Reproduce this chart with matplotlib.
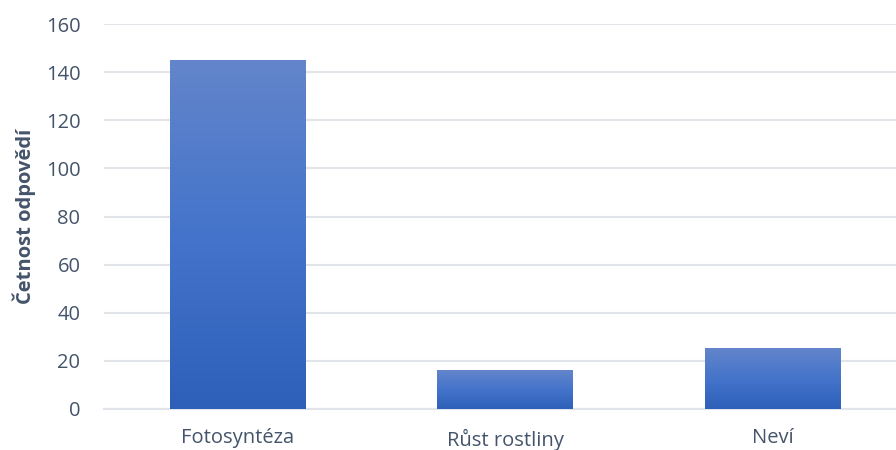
import numpy as np
import matplotlib.pyplot as plt
from matplotlib.colors import LinearSegmentedColormap

# Data
categories = ["Fotosyntéza", "Růst rostliny", "Neví"]
counts = [145, 16, 25]
y_ticks = [0, 20, 40, 60, 80, 100, 120, 140, 160]

text_color = "#44546A"
grid_color = "#E1E4E9"
grad = LinearSegmentedColormap.from_list("bar", ["#2E60B9", "#4474CB", "#6385CA"])

plt.rcParams['font.family'] = ['Open Sans', 'DejaVu Sans']

fig = plt.figure(figsize=(8.96, 4.5), dpi=100)
ax = fig.add_axes([104 / 896, 41 / 450, 792 / 896, 385 / 450])

x = np.arange(len(categories))
bar_w = 0.505
bars = ax.bar(x, counts, width=bar_w, color="none", edgecolor="none", zorder=3)

# vertical gradient inside each bar
g = np.linspace(0, 1, 256).reshape(-1, 1)
for b in bars:
    x0, y0 = b.get_x(), b.get_y()
    w, h = b.get_width(), b.get_height()
    ax.imshow(g, cmap=grad, origin="lower", aspect="auto",
              extent=[x0, x0 + w, y0, y0 + h], zorder=3)

ax.set_xlim(-0.5, 2.5 - 10 / 267.5)
ax.set_ylim(0, 160)
ax.set_yticks(y_ticks)
ax.set_xticks(x)
ax.set_xticklabels(categories)

ax.yaxis.grid(True, color=grid_color, linewidth=1.5, zorder=0)
ax.set_axisbelow(True)
for s in ["top", "right", "left"]:
    ax.spines[s].set_visible(False)
ax.spines["bottom"].set_color(grid_color)
ax.spines["bottom"].set_linewidth(1.5)

ax.tick_params(axis="both", length=0, colors=text_color, labelsize=14.5)
ax.tick_params(axis="y", pad=17)
ax.tick_params(axis="x", pad=14)

ax.set_ylabel("Četnost odpovědí", fontsize=14.5, fontweight="bold",
              color=text_color, labelpad=7)

fig.savefig("out.png", dpi=100)
